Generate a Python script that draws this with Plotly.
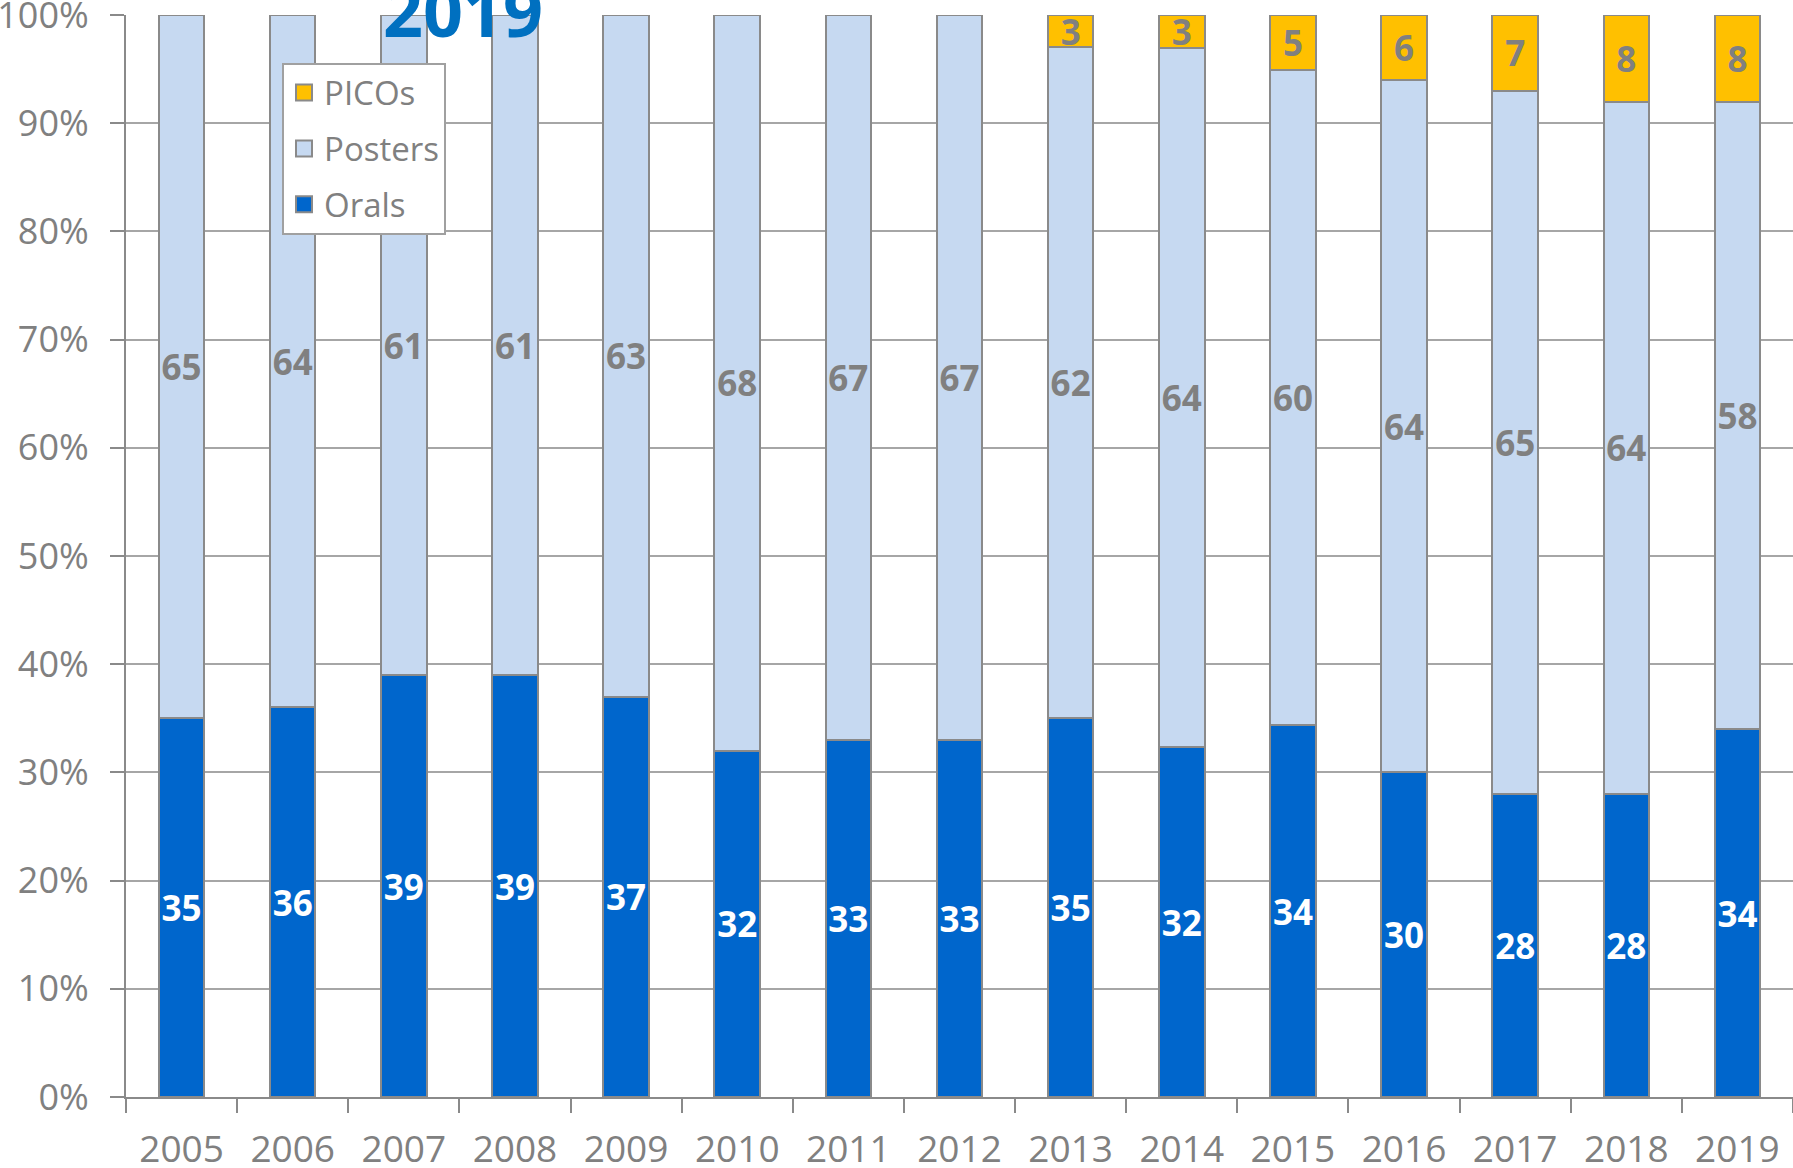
import plotly.graph_objects as go

years = [str(y) for y in range(2005, 2020)]
orals = [35, 36, 39, 39, 37, 32, 33, 33, 35, 32, 34, 30, 28, 28, 34]
posters = [65, 64, 61, 61, 63, 68, 67, 67, 62, 64, 60, 64, 65, 64, 58]
picos = [None, None, None, None, None, None, None, None, 3, 3, 5, 6, 7, 8, 8]

y_ticks = list(range(0, 101, 10))
y_tick_labels = [f"{v}%" for v in y_ticks]

FONT = "Open Sans"
GRAY = "#808080"
LINE = "#8a8a8a"

def lab(vals):
    return ["" if v is None else str(v) for v in vals]

fig = go.Figure()
series = [
    ("Orals", orals, "#0066CC", "white", 3),
    ("Posters", posters, "#C6D9F1", GRAY, 2),
    ("PICOs", picos, "#FFC000", GRAY, 1),
]
for name, vals, color, tcolor, rank in series:
    fig.add_trace(go.Bar(
        name=name, x=years, y=vals, text=lab(vals), texttemplate="%{text}",
        textposition="inside", insidetextanchor="middle", textangle=0,
        insidetextfont=dict(family=FONT, size=35, color=tcolor, weight="bold"),
        marker=dict(color=color, line=dict(color=LINE, width=2)),
        showlegend=False, hoverinfo="x+y+name",
    ))
    # legend entry with a larger square swatch
    fig.add_trace(go.Scatter(
        name=name, x=[None], y=[None], mode="markers",
        marker=dict(symbol="square", size=17, color=color, line=dict(color=LINE, width=2)),
        legendgroup=name, legendrank=rank, showlegend=True,
    ))

fig.update_layout(
    barmode="stack", barnorm="percent", bargap=0.59,
    width=1793, height=1168,
    margin=dict(l=126, r=0, t=15, b=71, autoexpand=False),
    paper_bgcolor="white", plot_bgcolor="white",
    font=dict(family=FONT, color=GRAY),
    uniformtext=dict(minsize=35, mode="show"),
    showlegend=True,
    legend=dict(
        x=0.0936, y=0.956, xanchor="left", yanchor="top",
        traceorder="grouped", tracegroupgap=10,
        bgcolor="white", bordercolor="#a0a0a0", borderwidth=2,
        font=dict(family=FONT, size=33, color=GRAY),
    ),
    xaxis=dict(
        type="category", showgrid=False, showline=True, linecolor=LINE, linewidth=2,
        ticks="outside", tickson="boundaries", ticklen=14, tickwidth=2, tickcolor=LINE,
        tickfont=dict(family=FONT, size=37, color=GRAY), ticklabelstandoff=19,
        automargin=False,
    ),
    yaxis=dict(
        range=[0, 100], tickvals=y_ticks, ticktext=y_tick_labels,
        showgrid=True, gridcolor="#a6a6a6", gridwidth=2,
        showline=True, linecolor=LINE, linewidth=2, zeroline=False,
        ticks="outside", ticklen=14, tickwidth=2, tickcolor=LINE,
        tickfont=dict(family=FONT, size=36, color=GRAY), ticklabelstandoff=14,
        ticklabeloverflow="allow", automargin=False,
    ),
    annotations=[dict(
        text="<b>2019</b>", xref="paper", yref="paper", x=0.202, y=0.958,
        xanchor="center", yanchor="bottom", showarrow=False,
        font=dict(family=FONT, size=70, color="#0070C0"),
    )],
)

fig.write_html(
    "out.html",
    config={"displayModeBar": False},
    post_script="document.body.style.margin='0';document.body.style.overflow='hidden';",
)
